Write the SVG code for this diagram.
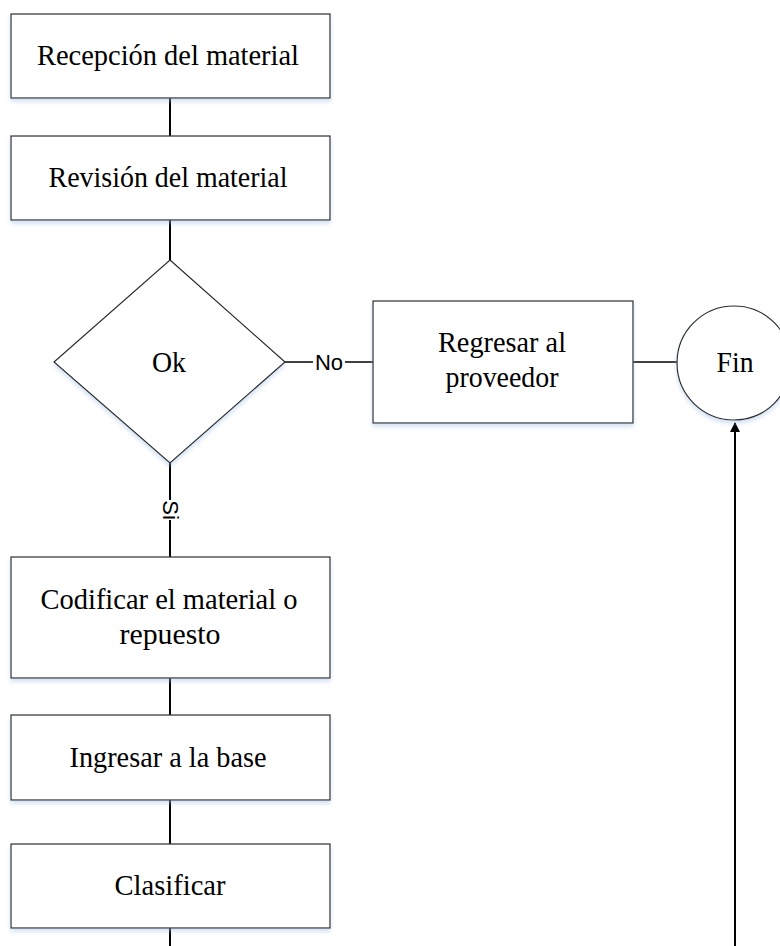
<svg xmlns="http://www.w3.org/2000/svg" width="780" height="946" viewBox="0 0 780 946">
<style>
.shape{fill:#fff;stroke:#2b2b2b;stroke-width:1.2;filter:url(#sh)}
.t{font-family:"Liberation Serif","Times New Roman",serif;font-size:30px;fill:#000;text-anchor:middle}
.lbl{font-family:"Liberation Sans",Arial,sans-serif;font-size:22px;fill:#000;text-anchor:middle;dominant-baseline:central}
.c{fill:none;stroke:#000;stroke-width:2}
.ch{fill:none;stroke:#000;stroke-width:1.5}
</style>
<defs>
<filter id="sh" x="-10%" y="-10%" width="120%" height="130%">
<feDropShadow dx="0" dy="3" stdDeviation="2" flood-color="#9dbbe0" flood-opacity="0.45"/>
</filter>
<marker id="arr" markerWidth="10" markerHeight="10" refX="9" refY="5" orient="auto" markerUnits="userSpaceOnUse">
<path d="M0,0 L10,5 L0,10 Z" fill="#000"/>
</marker>
</defs>
<g id="connectors">
<path class="c" d="M170 98 V136"/>
<path class="c" d="M170 220 V260"/>
<path class="ch" d="M285 362 H373"/>
<path class="ch" d="M633 362 H677"/>
<path class="c" d="M170 463 V557"/>
<path class="c" d="M170 678 V715"/>
<path class="c" d="M170 800 V844"/>
<path class="c" d="M170 928 V980 H735 V423" marker-end="url(#arr)"/>
<rect x="313" y="349" width="32" height="26" fill="#fff"/>
<text class="lbl" x="329" y="362">No</text>
<rect x="157" y="500" width="26" height="20" fill="#fff"/>
<text class="lbl" x="0" y="0" transform="translate(170 510) rotate(90)">Si</text>
</g>
<g id="recepcion">
<rect class="shape" x="11" y="14" width="319" height="84"/>
<text class="t" x="168" y="65" textLength="262" lengthAdjust="spacingAndGlyphs">Recepción del material</text>
</g>
<g id="revision">
<rect class="shape" x="11" y="136" width="319" height="84"/>
<text class="t" x="168" y="187" textLength="239" lengthAdjust="spacingAndGlyphs">Revisión del material</text>
</g>
<g id="ok">
<polygon class="shape" points="170,260 285,362 170,463 54,362"/>
<text class="t" x="169" y="372" textLength="34" lengthAdjust="spacingAndGlyphs">Ok</text>
</g>
<g id="regresar">
<rect class="shape" x="373" y="301" width="260" height="122"/>
<text class="t" x="502" y="352" textLength="128" lengthAdjust="spacingAndGlyphs">Regresar al</text>
<text class="t" x="502" y="387" textLength="113" lengthAdjust="spacingAndGlyphs">proveedor</text>
</g>
<g id="fin">
<circle class="shape" cx="734" cy="363" r="57"/>
<text class="t" x="735" y="372" textLength="37" lengthAdjust="spacingAndGlyphs">Fin</text>
</g>
<g id="codificar">
<rect class="shape" x="11" y="557" width="319" height="121"/>
<text class="t" x="169" y="609" textLength="257" lengthAdjust="spacingAndGlyphs">Codificar el material o</text>
<text class="t" x="170" y="644" textLength="101" lengthAdjust="spacingAndGlyphs">repuesto</text>
</g>
<g id="ingresar">
<rect class="shape" x="11" y="715" width="319" height="85"/>
<text class="t" x="168" y="767" textLength="197" lengthAdjust="spacingAndGlyphs">Ingresar a la base</text>
</g>
<g id="clasificar">
<rect class="shape" x="11" y="844" width="319" height="84"/>
<text class="t" x="170" y="895" textLength="111" lengthAdjust="spacingAndGlyphs">Clasificar</text>
</g>
</svg>
